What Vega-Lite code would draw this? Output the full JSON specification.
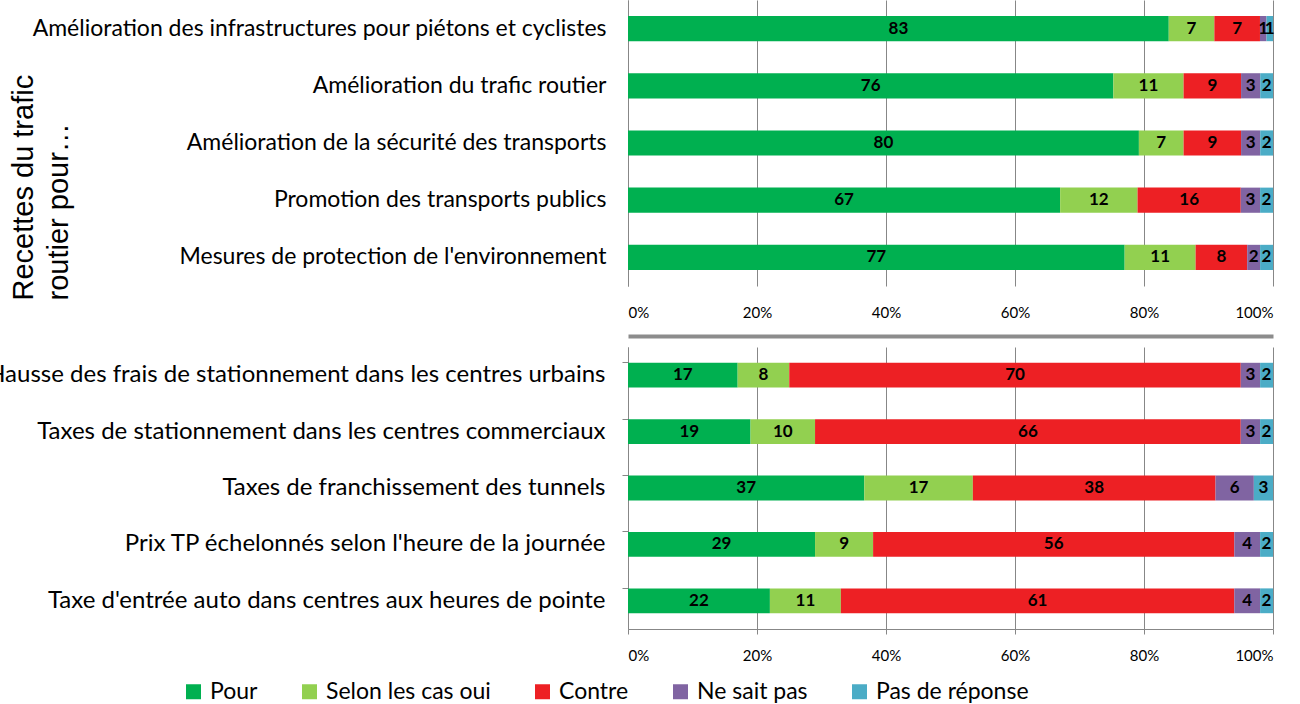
{
  "$schema": "https://vega.github.io/schema/vega-lite/v6.json",
  "data": {"values": [
    {"panel": "A", "item": "Amélioration des infrastructures pour piétons et cyclistes", "response": "Pour", "value": 83},
    {"panel": "A", "item": "Amélioration des infrastructures pour piétons et cyclistes", "response": "Selon les cas oui", "value": 7},
    {"panel": "A", "item": "Amélioration des infrastructures pour piétons et cyclistes", "response": "Contre", "value": 7},
    {"panel": "A", "item": "Amélioration des infrastructures pour piétons et cyclistes", "response": "Ne sait pas", "value": 1},
    {"panel": "A", "item": "Amélioration des infrastructures pour piétons et cyclistes", "response": "Pas de réponse", "value": 1},
    {"panel": "A", "item": "Amélioration du trafic routier", "response": "Pour", "value": 76},
    {"panel": "A", "item": "Amélioration du trafic routier", "response": "Selon les cas oui", "value": 11},
    {"panel": "A", "item": "Amélioration du trafic routier", "response": "Contre", "value": 9},
    {"panel": "A", "item": "Amélioration du trafic routier", "response": "Ne sait pas", "value": 3},
    {"panel": "A", "item": "Amélioration du trafic routier", "response": "Pas de réponse", "value": 2},
    {"panel": "A", "item": "Amélioration de la sécurité des transports", "response": "Pour", "value": 80},
    {"panel": "A", "item": "Amélioration de la sécurité des transports", "response": "Selon les cas oui", "value": 7},
    {"panel": "A", "item": "Amélioration de la sécurité des transports", "response": "Contre", "value": 9},
    {"panel": "A", "item": "Amélioration de la sécurité des transports", "response": "Ne sait pas", "value": 3},
    {"panel": "A", "item": "Amélioration de la sécurité des transports", "response": "Pas de réponse", "value": 2},
    {"panel": "A", "item": "Promotion des transports publics", "response": "Pour", "value": 67},
    {"panel": "A", "item": "Promotion des transports publics", "response": "Selon les cas oui", "value": 12},
    {"panel": "A", "item": "Promotion des transports publics", "response": "Contre", "value": 16},
    {"panel": "A", "item": "Promotion des transports publics", "response": "Ne sait pas", "value": 3},
    {"panel": "A", "item": "Promotion des transports publics", "response": "Pas de réponse", "value": 2},
    {"panel": "A", "item": "Mesures de protection de l'environnement", "response": "Pour", "value": 77},
    {"panel": "A", "item": "Mesures de protection de l'environnement", "response": "Selon les cas oui", "value": 11},
    {"panel": "A", "item": "Mesures de protection de l'environnement", "response": "Contre", "value": 8},
    {"panel": "A", "item": "Mesures de protection de l'environnement", "response": "Ne sait pas", "value": 2},
    {"panel": "A", "item": "Mesures de protection de l'environnement", "response": "Pas de réponse", "value": 2},
    {"panel": "B", "item": "Hausse des frais de stationnement dans les centres urbains", "response": "Pour", "value": 17},
    {"panel": "B", "item": "Hausse des frais de stationnement dans les centres urbains", "response": "Selon les cas oui", "value": 8},
    {"panel": "B", "item": "Hausse des frais de stationnement dans les centres urbains", "response": "Contre", "value": 70},
    {"panel": "B", "item": "Hausse des frais de stationnement dans les centres urbains", "response": "Ne sait pas", "value": 3},
    {"panel": "B", "item": "Hausse des frais de stationnement dans les centres urbains", "response": "Pas de réponse", "value": 2},
    {"panel": "B", "item": "Taxes de stationnement dans les centres commerciaux", "response": "Pour", "value": 19},
    {"panel": "B", "item": "Taxes de stationnement dans les centres commerciaux", "response": "Selon les cas oui", "value": 10},
    {"panel": "B", "item": "Taxes de stationnement dans les centres commerciaux", "response": "Contre", "value": 66},
    {"panel": "B", "item": "Taxes de stationnement dans les centres commerciaux", "response": "Ne sait pas", "value": 3},
    {"panel": "B", "item": "Taxes de stationnement dans les centres commerciaux", "response": "Pas de réponse", "value": 2},
    {"panel": "B", "item": "Taxes de franchissement des tunnels ", "response": "Pour", "value": 37},
    {"panel": "B", "item": "Taxes de franchissement des tunnels ", "response": "Selon les cas oui", "value": 17},
    {"panel": "B", "item": "Taxes de franchissement des tunnels ", "response": "Contre", "value": 38},
    {"panel": "B", "item": "Taxes de franchissement des tunnels ", "response": "Ne sait pas", "value": 6},
    {"panel": "B", "item": "Taxes de franchissement des tunnels ", "response": "Pas de réponse", "value": 3},
    {"panel": "B", "item": "Prix TP échelonnés selon l'heure de la journée", "response": "Pour", "value": 29},
    {"panel": "B", "item": "Prix TP échelonnés selon l'heure de la journée", "response": "Selon les cas oui", "value": 9},
    {"panel": "B", "item": "Prix TP échelonnés selon l'heure de la journée", "response": "Contre", "value": 56},
    {"panel": "B", "item": "Prix TP échelonnés selon l'heure de la journée", "response": "Ne sait pas", "value": 4},
    {"panel": "B", "item": "Prix TP échelonnés selon l'heure de la journée", "response": "Pas de réponse", "value": 2},
    {"panel": "B", "item": "Taxe d'entrée auto dans centres aux heures de pointe", "response": "Pour", "value": 22},
    {"panel": "B", "item": "Taxe d'entrée auto dans centres aux heures de pointe", "response": "Selon les cas oui", "value": 11},
    {"panel": "B", "item": "Taxe d'entrée auto dans centres aux heures de pointe", "response": "Contre", "value": 61},
    {"panel": "B", "item": "Taxe d'entrée auto dans centres aux heures de pointe", "response": "Ne sait pas", "value": 4},
    {"panel": "B", "item": "Taxe d'entrée auto dans centres aux heures de pointe", "response": "Pas de réponse", "value": 2}
  ]},
  "transform": [{"window": [{"op": "row_number", "as": "rk"}], "groupby": ["item"]}],
  "bounds": "flush",
  "spacing": 61,
  "padding": {"left": -14, "right": 0, "top": 0, "bottom": 0},
  "config": {
    "view": {"stroke": null},
    "font": "Lato",
    "axis": {
      "labelFont": "Lato", "labelColor": "#000", "labelFontSize": 15,
      "gridColor": "#878787", "gridWidth": 1, "domainColor": "#878787", "tickColor": "#878787"
    },
    "legend": {
      "orient": "none", "legendX": -446, "legendY": 680, "direction": "horizontal", "title": null,
      "symbolType": "square", "symbolSize": 225, "symbolStrokeWidth": 0, "symbolOpacity": 1,
      "labelFont": "Lato", "labelFontSize": 23, "labelColor": "#000", "columnPadding": 40, "labelOffset": 5, "labelLimit": 400
    }
  },
  "vconcat": [
    {
      "width": 645, "height": 286,
      "transform": [{"filter": "datum.panel == 'A'"}],
      "encoding": {
        "y": {"field": "item", "type": "nominal", "sort": null,
          "scale": {"paddingInner": 0.56, "paddingOuter": 0.28},
          "axis": {"title": ["Recettes du trafic", "routier pour…"], "titleFont": "Liberation Sans", "titleFontSize": 29, "titleFontWeight": "normal", "titleColor": "#000", "titleLineHeight": 35,
            "titleAngle": -90, "titleX": -605, "titleY": 300, "titleAlign": "left", "titleBaseline": "middle",
            "ticks": false, "domain": true, "labelPadding": 22, "labelFontSize": 23, "labelLimit": 800}},
        "order": {"field": "rk", "type": "quantitative", "sort": "ascending"}
      },
      "layer": [
        {"mark": {"type": "bar"},
          "encoding": {
            "x": {"field": "value", "type": "quantitative", "stack": "normalize", "scale": {"domain": [0, 1]},
              "axis": {"title": null, "format": ".0%", "values": [0, 0.2, 0.4, 0.6, 0.8, 1], "grid": true, "domain": false, "ticks": false, "labelPadding": 19}},
            "color": {"field": "response", "type": "nominal",
              "scale": {"domain": ["Pour", "Selon les cas oui", "Contre", "Ne sait pas", "Pas de réponse"], "range": ["#00B050", "#92D050", "#ED2024", "#8064A2", "#4BACC6"]}}
          }},
        {"mark": {"type": "text", "font": "Lato", "fontWeight": "bold", "fontSize": 17, "color": "#000"},
          "encoding": {
            "x": {"field": "value", "type": "quantitative", "stack": "normalize", "bandPosition": 0.5},
            "detail": {"field": "response"},
            "text": {"field": "value", "type": "quantitative"}
          }}
      ]
    },
    {
      "width": 645, "height": 282,
      "transform": [{"filter": "datum.panel == 'B'"}],
      "encoding": {
        "y": {"field": "item", "type": "nominal", "sort": null,
          "scale": {"paddingInner": 0.56, "paddingOuter": 0.28},
          "axis": {"title": null, "ticks": true, "tickSize": 6, "bandPosition": 0, "domain": true, "labelPadding": 17, "labelFontSize": 24, "labelLimit": 800}},
        "order": {"field": "rk", "type": "quantitative", "sort": "ascending"}
      },
      "resolve": {"axis": {"x": "independent"}},
      "layer": [
        {"mark": {"type": "bar"},
          "encoding": {
            "x": {"field": "value", "type": "quantitative", "stack": "normalize", "scale": {"domain": [0, 1]},
              "axis": {"title": null, "format": ".0%", "values": [0, 0.2, 0.4, 0.6, 0.8, 1], "grid": true, "domain": true, "ticks": true, "tickSize": 5, "labelPadding": 14}},
            "color": {"field": "response", "type": "nominal",
              "scale": {"domain": ["Pour", "Selon les cas oui", "Contre", "Ne sait pas", "Pas de réponse"], "range": ["#00B050", "#92D050", "#ED2024", "#8064A2", "#4BACC6"]}}
          }},
        {"mark": {"type": "text", "font": "Lato", "fontWeight": "bold", "fontSize": 17, "color": "#000"},
          "encoding": {
            "x": {"field": "value", "type": "quantitative", "stack": "normalize", "bandPosition": 0.5,
              "axis": {"orient": "top", "title": null, "labels": false, "ticks": false, "grid": false, "domain": true, "domainColor": "#8C8C8C", "domainWidth": 4, "offset": 11}},
            "detail": {"field": "response"},
            "text": {"field": "value", "type": "quantitative"}
          }}
      ]
    }
  ]
}
